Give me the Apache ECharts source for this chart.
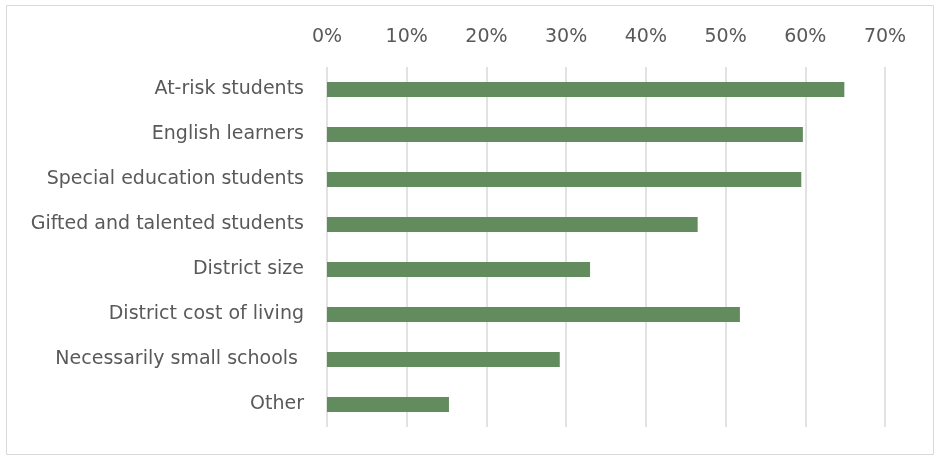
<!DOCTYPE html>
<html>
<head>
<meta charset="utf-8">
<script src="https://cdn.jsdelivr.net/npm/echarts@6/dist/echarts.min.js"></script>
<style>
  html, body { margin: 0; padding: 0; background: #fff; }
  #chart { width: 935px; height: 456px; }
</style>
</head>
<body>
<div id="chart"></div>
<script>
// Categories listed top to bottom
const categories = [
  'At-risk students',
  'English learners',
  'Special education students',
  'Gifted and talented students',
  'District size',
  'District cost of living',
  'Necessarily small schools ',
  'Other'
];
// Share of respondents for each category (fraction)
const shares = [0.649, 0.597, 0.595, 0.465, 0.330, 0.518, 0.292, 0.153];
// Percent axis range
const axisMin = 0;
const axisMax = 0.7;
const axisStep = 0.1;

const chart = echarts.init(document.getElementById('chart'));
const font = '"DejaVu Sans", sans-serif';

chart.setOption({
  animation: false,
  backgroundColor: '#ffffff',
  graphic: [{
    type: 'rect',
    shape: { x: 6.5, y: 5.5, width: 927, height: 449 },
    style: { fill: 'none', stroke: '#d9d9d9', lineWidth: 1 },
    silent: true
  }],
  grid: { left: 327, right: 50, top: 67, bottom: 29 },
  xAxis: {
    type: 'value',
    position: 'top',
    min: axisMin,
    max: axisMax,
    interval: axisStep,
    axisLine: { show: false },
    axisTick: { show: false },
    splitLine: { show: true, lineStyle: { color: '#d9d9d9', width: 1.5 } },
    axisLabel: {
      color: '#595959',
      fontFamily: font,
      fontSize: 19,
      margin: 20,
      formatter: v => Math.round(v * 100) + '%'
    }
  },
  yAxis: {
    type: 'category',
    data: categories,
    inverse: true,
    axisLine: { show: false },
    axisTick: { show: false },
    axisLabel: {
      color: '#595959',
      fontFamily: font,
      fontSize: 19,
      margin: 23
    }
  },
  series: [{
    type: 'bar',
    data: shares,
    barWidth: 15,
    itemStyle: { color: '#638c5e' }
  }]
});
</script>
</body>
</html>
